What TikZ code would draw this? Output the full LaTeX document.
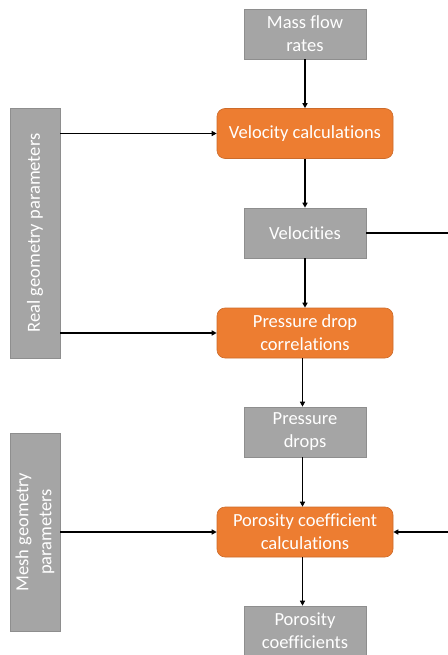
\documentclass[tikz,border=0pt]{standalone}
\usepackage{fontspec}
\setmainfont{Carlito}[Ligatures=NoCommon]
\usetikzlibrary{arrows.meta}
\definecolor{boxgray}{HTML}{A5A5A5}
\definecolor{boxgrayline}{HTML}{8E8E8E}
\definecolor{calcorange}{HTML}{ED7D31}
\definecolor{calcorangeline}{HTML}{CC6B2B}

\begin{document}
\begin{tikzpicture}[x=1pt,y=-1pt,
    databox/.style={rectangle,fill=boxgray,draw=boxgrayline,line width=0.6pt,
        text=white,minimum width=122pt,minimum height=50pt,inner sep=2pt,
        align=center,font=\fontsize{18.5}{23}\selectfont},
    calcbox/.style={databox,rounded corners=8pt,fill=calcorange,
        draw=calcorangeline,minimum width=176pt},
    parambox/.style={databox,rotate=90}]
\useasboundingbox (0,0) rectangle (447,655);

\begin{scope}
    \node[databox] (MFR) at (305,34) {Mass flow\\rates};
    \node[calcbox] (VC) at (305,133.5) {Velocity calculations};
    \node[databox] (VEL) at (305,233) {Velocities};
    \node[calcbox] (PDC) at (305,333) {Pressure drop\\correlations};
    \node[databox] (PD) at (305,432) {Pressure\\drops};
    \node[calcbox] (PCC) at (305,532) {Porosity coefficient\\calculations};
    \node[databox] (PC) at (305,631) {Porosity\\coefficients};
    \node[parambox,minimum width=250pt] (RGP) at (35,233) {Real geometry parameters};
    \node[parambox,minimum width=198pt] (MGP) at (35,532) {Mesh geometry\\parameters};
    \coordinate (VELR) at (449,233);
\end{scope}

\begin{scope}[>={Triangle[length=5pt,width=5pt]},
              every edge/.style={draw=black,line width=1.4pt}]
    % main chain
    \path [->] (MFR) edge (VC);
    \path [->] (VC) edge (VEL);
    \path [->] (VEL) edge (PDC);
    \path [->] ([xshift=-2.5pt]PDC.south) edge ([xshift=-2.5pt]PD.north);
    \path [->] ([xshift=-2.5pt]PD.south) edge ([xshift=-2.5pt]PCC.north);
    \path [->] ([xshift=-2.5pt]PCC.south) edge ([xshift=-2.5pt]PC.north);
    % geometry inputs
    \path [->] (RGP.south |- VC.west) edge (VC.west);
    \path [->] (RGP.south |- PDC.west) edge (PDC.west);
    \path [->] (MGP.south |- PCC.west) edge (PCC.west);
    % velocities round the right side
    \draw [->,line width=1.4pt] (VEL.east) -- (VELR) |- (PCC.east);
\end{scope}
\end{tikzpicture}
\end{document}
